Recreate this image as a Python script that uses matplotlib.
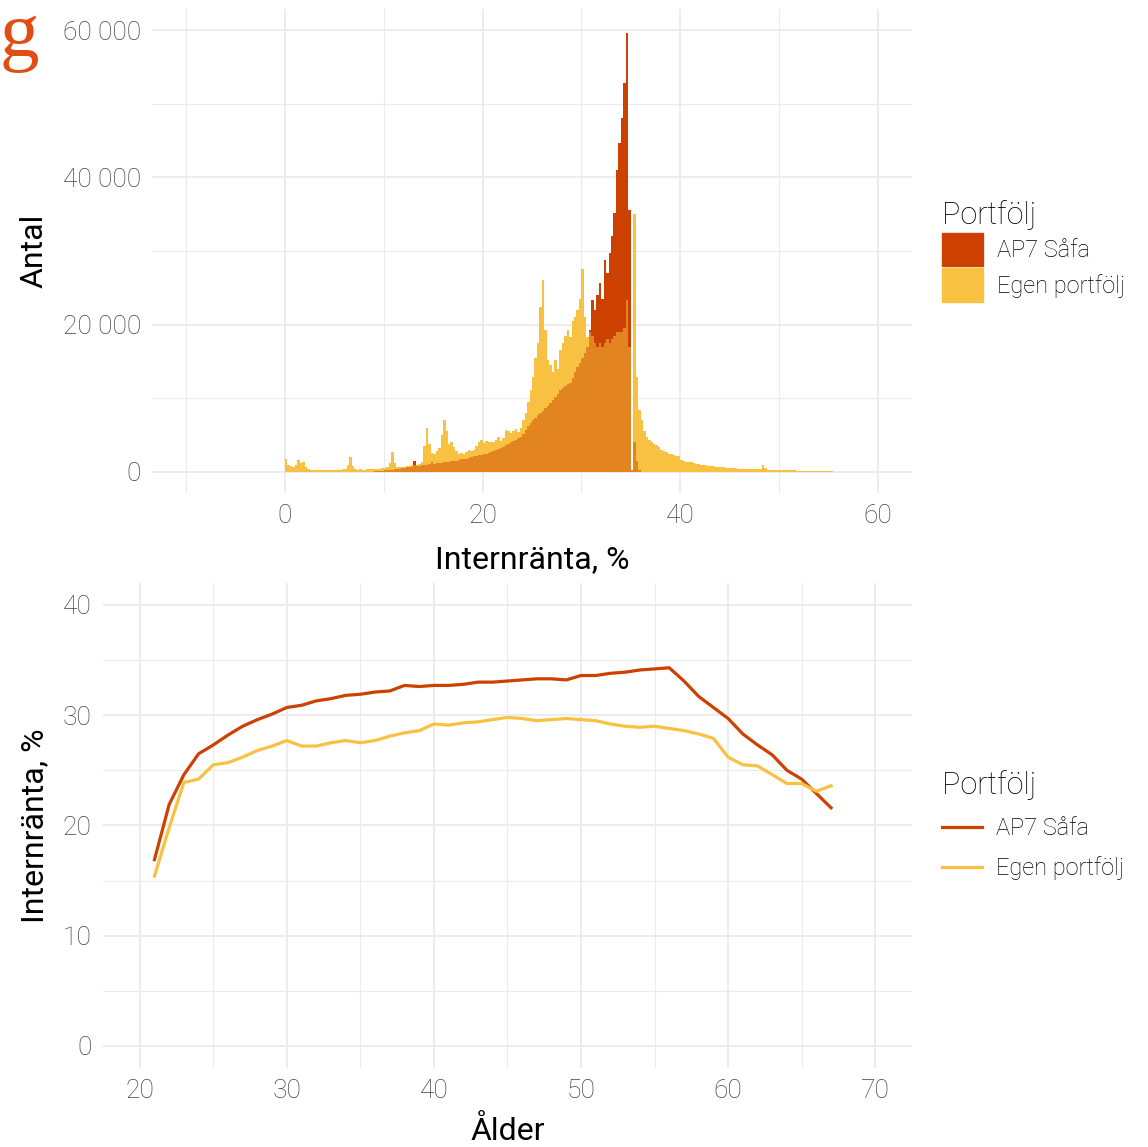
import numpy as np
import matplotlib
matplotlib.use("Agg")
import matplotlib.pyplot as plt
from matplotlib.patches import Patch
from matplotlib.ticker import FuncFormatter, MultipleLocator

plt.rcParams['font.family'] = ['Roboto', 'DejaVu Sans']
plt.rcParams['font.weight'] = 'light'

# histogram: counts per 0.25 %-unit bin
bin_width = 0.25
egen_start = 0.0
egen_counts = [
    1700, 900, 800, 700,   1000, 1600, 1200, 1400,   700, 400, 300, 250,
    250, 200, 200, 200,    200, 250, 200, 300,       300, 250, 300, 350,
    400, 900, 2000, 800,   350, 300, 350, 300,       300, 350, 400, 350,
    400, 450, 400, 500,    500, 600, 1200, 2700,     1200, 700, 600, 700,
    700, 750, 800, 900,    900, 1000, 1100, 1300,    3500, 5900, 3800, 2600,
    2400, 2800, 3200, 5000,  7100, 5500, 3800, 4000,  3400, 2800, 2400, 2600,
    2500, 2700, 3000, 2800,  3000, 3500, 4000, 4400,  3900, 4200, 4100, 4000,
    4000, 4300, 4800, 4200,  4600, 5700, 5500, 5300,  5600, 5800, 5400, 6000,
    7000, 8000, 9500, 11100,  12900, 15500, 17500, 22400,  26000, 19300, 15200, 14500,
    13500, 15200, 14000, 16600,  17500, 18500, 19300, 18300,  20500, 21000, 22000, 23500,
    27600, 21000, 18300, 19000,  18500, 17500, 17000, 17500,  17000, 17500, 18000, 17500,
    18000, 18500, 19000, 19000,  19000, 19500, 23400, 17000,  200, 35000, 12900, 8400,
    7000, 5600, 4700, 4300,  4000, 3800, 3600, 3400,  3000, 2800, 2700, 2500,
    2500, 2300, 2200, 2100,  1600, 1500, 1400, 1300,  1300, 1200, 1100, 1100,
    1000, 950, 900, 850,  800, 750, 700, 700,  650, 600, 550, 550,
    520, 500, 480, 460,  450, 430, 420, 400,  400, 380, 370, 360,
    350, 900, 500, 320,  300, 290, 280, 270,  260, 250, 240, 230,
    220, 210, 200, 190,  180, 170, 160, 150,  140, 130, 120, 110,
    100, 100, 90, 80,  70, 60, 50, 40,
]
ap7_start = 9.0
ap7_counts = [
    100, 120, 150, 180,  200, 250, 300, 320,  350, 400, 450, 500,
    550, 600, 650, 700,  1500, 800, 850, 900,  950, 1000, 1050, 1300,
    1100, 1150, 1200, 1250,  1300, 1350, 1400, 1450,  1500, 1550, 1600, 1700,
    1750, 1800, 1900, 2000,  2100, 2200, 2250, 2300,  2400, 2500, 2600, 2700,
    2800, 2950, 3100, 3300,  3440, 3600, 3800, 4000,  4200, 4400, 4600, 4800,
    5200, 5700, 6200, 6650,  7000, 7300, 7700, 8000,  8300, 8700, 9000, 9370,
    9700, 10200, 10600, 11100,  11400, 11700, 12000, 12100,  12800, 13500, 14200, 14800,
    15500, 16200, 16900, 19300,  23400, 22000, 24000, 25700,  23500, 28800, 27000, 29700,
    32000, 35200, 41000, 44700,  48000, 52800, 59600, 35600,  200, 4000, 1500, 300,
]

# line chart: mean internal rate by age
ages = list(range(21, 68))
ap7_rate = [16.9, 21.9, 24.6, 26.5, 27.3, 28.2, 29.0, 29.6, 30.1, 30.7,
            30.9, 31.3, 31.5, 31.8, 31.9, 32.1, 32.2, 32.7, 32.6, 32.7,
            32.7, 32.8, 33.0, 33.0, 33.1, 33.2, 33.3, 33.3, 33.2, 33.6,
            33.6, 33.8, 33.9, 34.1, 34.2, 34.3, 33.1, 31.7, 30.7, 29.7,
            28.3, 27.3, 26.4, 25.0, 24.2, 22.9, 21.6]
egen_rate = [15.4, 19.8, 23.9, 24.2, 25.5, 25.7, 26.2, 26.8, 27.2, 27.7,
             27.2, 27.2, 27.5, 27.7, 27.5, 27.7, 28.1, 28.4, 28.6, 29.2,
             29.1, 29.3, 29.4, 29.6, 29.8, 29.7, 29.5, 29.6, 29.7, 29.6,
             29.5, 29.2, 29.0, 28.9, 29.0, 28.8, 28.6, 28.3, 27.9, 26.2,
             25.5, 25.4, 24.6, 23.8, 23.8, 23.1, 23.6]

series = ["AP7 Såfa", "Egen portfölj"]
red = "#CC4100"
yellow = "#F8C141"
overlap = "#E2841F"
grid_col = "#EBEBEB"
tick_col = "#444444"

egen = np.array(egen_counts, dtype=float)
edges = egen_start + bin_width * np.arange(len(egen) + 1)
ap7 = np.zeros_like(egen)
off = int(round((ap7_start - egen_start) / bin_width))
ap7[off:off + len(ap7_counts)] = ap7_counts

fig = plt.figure(figsize=(11.48, 11.47), dpi=100)
ax1 = fig.add_axes([0.1324, 0.5702, 0.662, 0.422])
ax2 = fig.add_axes([0.0897, 0.0689, 0.7047, 0.4229])


def style(ax, xmaj, xmin, ymaj, ymin):
    for s in ax.spines.values():
        s.set_visible(False)
    ax.xaxis.set_major_locator(MultipleLocator(xmaj))
    ax.xaxis.set_minor_locator(MultipleLocator(xmin))
    ax.yaxis.set_major_locator(MultipleLocator(ymaj))
    ax.yaxis.set_minor_locator(MultipleLocator(ymin))
    ax.grid(True, which='major', color=grid_col, lw=1.3)
    ax.grid(True, which='minor', color=grid_col, lw=0.8)
    ax.set_axisbelow(True)
    ax.tick_params(which='both', length=0, labelsize=19, labelcolor=tick_col)
    ax.tick_params(axis='x', pad=8)
    ax.tick_params(axis='y', pad=8)


leg_kw = dict(title="Portfölj", loc='center left', frameon=False, fontsize=17,
              title_fontsize=22, handlelength=1.7, handletextpad=0.6,
              borderaxespad=0, borderpad=0, alignment='left')

# top: histogram
ax1.stairs(egen, edges, fill=True, color=yellow, lw=0)
ax1.stairs(ap7, edges, fill=True, color=red, lw=0)
ax1.stairs(np.minimum(ap7, egen), edges, fill=True, color=overlap, lw=0)
ax1.set_xlim(-13.46, 63.46)
ax1.set_ylim(-2860, 62860)
style(ax1, 20, 10, 20000, 10000)
ax1.yaxis.set_major_formatter(FuncFormatter(lambda v, p: f"{int(v):,}".replace(",", " ")))
ax1.set_xlabel("Internränta, %", fontsize=23, labelpad=12)
ax1.set_ylabel("Antal", fontsize=23, labelpad=10)
ax1.legend(handles=[Patch(color=red), Patch(color=yellow)], labels=series,
           bbox_to_anchor=(1.04, 0.5), handleheight=1.8, labelspacing=0.1,
           **leg_kw)

# bottom: lines by age
ax2.plot(ages, ap7_rate, color=red, lw=2.3, label=series[0])
ax2.plot(ages, egen_rate, color=yellow, lw=2.3, label=series[1])
ax2.set_xlim(17.5, 72.5)
ax2.set_ylim(-2, 42)
style(ax2, 10, 5, 10, 5)
ax2.set_xlabel("Ålder", fontsize=23, labelpad=9)
ax2.set_ylabel("Internränta, %", fontsize=23, labelpad=10)
ax2.legend(bbox_to_anchor=(1.037, 0.5), labelspacing=0.7, **leg_kw)

fig.text(0.0, 0.951, "g", family=['Liberation Serif', 'DejaVu Serif'],
         fontsize=57, color="#E04E14", va='baseline', ha='left')

fig.savefig("out.png", dpi=100)
